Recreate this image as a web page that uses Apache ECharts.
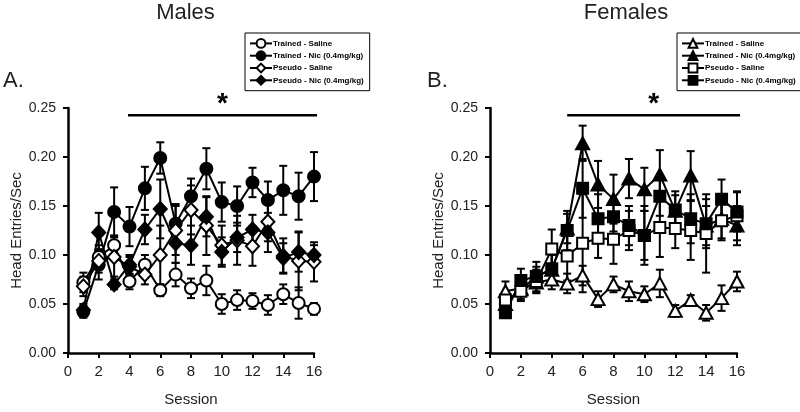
<!DOCTYPE html>
<html>
<head>
<meta charset="utf-8">
<script src="https://cdn.jsdelivr.net/npm/echarts@6/dist/echarts.min.js"></script>
<style>
html, body { margin: 0; padding: 0; background: #fff; }
#chart { width: 800px; height: 412px; }
</style>
</head>
<body>
<div id="chart"></div>
<script>
// sessions on the x axis
var sessions = [1, 2, 3, 4, 5, 6, 7, 8, 9, 10, 11, 12, 13, 14, 15, 16];
var yTicks = [0, 0.05, 0.10, 0.15, 0.20, 0.25];

// Males
var maleTrainedSaline    = [0.072, 0.098, 0.110, 0.073, 0.090, 0.064, 0.080, 0.066, 0.074, 0.050, 0.054, 0.053, 0.049, 0.060, 0.051, 0.045];
var maleTrainedSalineErr = [0.010, 0.012, 0.010, 0.008, 0.010, 0.006, 0.012, 0.010, 0.015, 0.010, 0.010, 0.008, 0.010, 0.010, 0.016, 0.006];
var maleTrainedNic       = [0.042, 0.090, 0.144, 0.129, 0.168, 0.199, 0.132, 0.160, 0.188, 0.154, 0.150, 0.174, 0.156, 0.166, 0.160, 0.180];
var maleTrainedNicErr    = [0.006, 0.015, 0.025, 0.020, 0.022, 0.016, 0.020, 0.018, 0.021, 0.020, 0.020, 0.015, 0.019, 0.025, 0.024, 0.025];
var malePseudoSaline     = [0.068, 0.094, 0.098, 0.088, 0.080, 0.100, 0.125, 0.146, 0.130, 0.110, 0.115, 0.109, 0.134, 0.099, 0.094, 0.093];
var malePseudoSalineErr  = [0.010, 0.012, 0.020, 0.010, 0.010, 0.030, 0.025, 0.025, 0.030, 0.020, 0.025, 0.020, 0.020, 0.018, 0.030, 0.020];
var malePseudoNic        = [0.044, 0.123, 0.070, 0.090, 0.126, 0.147, 0.112, 0.110, 0.139, 0.103, 0.118, 0.126, 0.123, 0.097, 0.103, 0.100];
var malePseudoNicErr     = [0.006, 0.020, 0.005, 0.010, 0.015, 0.030, 0.020, 0.020, 0.020, 0.015, 0.015, 0.015, 0.020, 0.015, 0.020, 0.010];

// Females
var femTrainedSaline    = [0.063, 0.066, 0.072, 0.075, 0.071, 0.079, 0.055, 0.070, 0.063, 0.060, 0.071, 0.043, 0.054, 0.041, 0.056, 0.073];
var femTrainedSalineErr = [0.010, 0.008, 0.010, 0.010, 0.010, 0.010, 0.008, 0.008, 0.010, 0.008, 0.014, 0.006, 0.005, 0.008, 0.013, 0.010];
var femTrainedNic       = [0.050, 0.065, 0.078, 0.085, 0.127, 0.214, 0.172, 0.157, 0.178, 0.167, 0.182, 0.145, 0.181, 0.130, 0.137, 0.130];
var femTrainedNicErr    = [0.010, 0.010, 0.010, 0.015, 0.015, 0.018, 0.024, 0.025, 0.020, 0.022, 0.025, 0.020, 0.025, 0.020, 0.020, 0.020];
var femPseudoSaline     = [0.054, 0.063, 0.073, 0.106, 0.099, 0.112, 0.117, 0.116, 0.125, 0.120, 0.128, 0.127, 0.125, 0.122, 0.135, 0.140];
var femPseudoSalineErr  = [0.008, 0.010, 0.012, 0.020, 0.025, 0.050, 0.020, 0.025, 0.020, 0.030, 0.030, 0.020, 0.030, 0.040, 0.020, 0.025];
var femPseudoNic        = [0.041, 0.074, 0.078, 0.086, 0.125, 0.168, 0.137, 0.139, 0.130, 0.120, 0.160, 0.146, 0.137, 0.132, 0.157, 0.144];
var femPseudoNicErr     = [0.005, 0.012, 0.015, 0.015, 0.020, 0.030, 0.025, 0.015, 0.020, 0.025, 0.020, 0.015, 0.025, 0.025, 0.020, 0.020];

var groupNames = ['Trained - Saline', 'Trained - Nic (0.4mg/kg)', 'Pseudo - Saline', 'Pseudo - Nic (0.4mg/kg)'];

var FONT = '"Liberation Sans", Arial, sans-serif';

var chart = echarts.init(document.getElementById('chart'));

// error bars with caps
function errBars(means, errs, gi) {
    return {
        type: 'custom',
        xAxisIndex: gi,
        yAxisIndex: gi,
        z: 2,
        silent: true,
        data: sessions.map(function (s, i) { return [s, means[i] - errs[i], means[i] + errs[i]]; }),
        renderItem: function (params, api) {
            var top = api.coord([api.value(0), api.value(2)]);
            var bot = api.coord([api.value(0), api.value(1)]);
            var w = 4;
            var st = { stroke: '#000', lineWidth: 2 };
            return {
                type: 'group',
                children: [
                    { type: 'line', shape: { x1: top[0], y1: top[1], x2: bot[0], y2: bot[1] }, style: st },
                    { type: 'line', shape: { x1: top[0] - w, y1: top[1], x2: top[0] + w, y2: top[1] }, style: st },
                    { type: 'line', shape: { x1: bot[0] - w, y1: bot[1], x2: bot[0] + w, y2: bot[1] }, style: st }
                ]
            };
        }
    };
}

function lineSeries(name, means, gi, symbol, size, filled) {
    return {
        name: name,
        type: 'line',
        xAxisIndex: gi,
        yAxisIndex: gi,
        z: 3,
        data: sessions.map(function (s, i) { return [s, means[i]]; }),
        symbol: symbol,
        symbolSize: size,
        showAllSymbol: true,
        lineStyle: { color: '#000', width: 2 },
        itemStyle: { color: filled ? '#000' : '#fff', borderColor: '#000', borderWidth: 2 },
        emphasis: { disabled: true }
    };
}

function xAxisFor(gi) {
    return {
        type: 'value', gridIndex: gi, min: 0, max: 16, interval: 2,
        name: 'Session', nameLocation: 'middle', nameGap: 39,
        nameTextStyle: { fontSize: 15, color: '#222', fontFamily: FONT },
        axisLine: { lineStyle: { color: '#000', width: 2.5 } },
        axisTick: { length: 5, lineStyle: { color: '#000', width: 2 } },
        axisLabel: { fontSize: 15, color: '#222', margin: 11, fontFamily: FONT },
        splitLine: { show: false }
    };
}

function yAxisFor(gi) {
    return {
        type: 'value', gridIndex: gi, min: 0, max: 0.25, interval: 0.05,
        name: 'Head Entries/Sec', nameLocation: 'middle', nameGap: 38,
        nameTextStyle: { fontSize: 15, color: '#222', fontFamily: FONT },
        axisLine: { show: true, lineStyle: { color: '#000', width: 2.5 } },
        axisTick: { show: true, length: 5, lineStyle: { color: '#000', width: 2 } },
        axisLabel: { fontSize: 14, color: '#222', margin: 12, fontFamily: FONT,
            formatter: function (v) { return v.toFixed(2); } },
        splitLine: { show: false }
    };
}

function legendFor(prefix, left) {
    return {
        data: groupNames.map(function (n) { return prefix + '|' + n; }),
        orient: 'vertical',
        left: left,
        top: 33,
        selectedMode: false,
        borderColor: '#000',
        borderWidth: 1,
        padding: [5, 6, 5, 4],
        itemWidth: 22,
        itemHeight: 11,
        itemGap: 1.5,
        formatter: function (n) { return n.split('|')[1]; },
        textStyle: { fontSize: 8, fontWeight: 'bold', color: '#000', fontFamily: FONT, padding: [0, 0, 0, -4] }
    };
}

var option = {
    animation: false,
    grid: [
        { left: 68, top: 108, width: 246, height: 248 },
        { left: 490, top: 108, width: 247, height: 248 }
    ],
    xAxis: [xAxisFor(0), xAxisFor(1)],
    yAxis: [yAxisFor(0), yAxisFor(1)],
    legend: [legendFor('M', 245), legendFor('F', 677)],
    series: [
        errBars(maleTrainedSaline, maleTrainedSalineErr, 0),
        errBars(maleTrainedNic, maleTrainedNicErr, 0),
        errBars(malePseudoSaline, malePseudoSalineErr, 0),
        errBars(malePseudoNic, malePseudoNicErr, 0),
        lineSeries('M|' + groupNames[0], maleTrainedSaline, 0, 'circle', 12, false),
        lineSeries('M|' + groupNames[1], maleTrainedNic, 0, 'circle', 12, true),
        lineSeries('M|' + groupNames[2], malePseudoSaline, 0, 'diamond', [13, 14], false),
        lineSeries('M|' + groupNames[3], malePseudoNic, 0, 'diamond', [13, 14], true),

        errBars(femTrainedSaline, femTrainedSalineErr, 1),
        errBars(femTrainedNic, femTrainedNicErr, 1),
        errBars(femPseudoSaline, femPseudoSalineErr, 1),
        errBars(femPseudoNic, femPseudoNicErr, 1),
        lineSeries('F|' + groupNames[0], femTrainedSaline, 1, 'triangle', [13, 12], false),
        lineSeries('F|' + groupNames[1], femTrainedNic, 1, 'triangle', [13, 12], true),
        lineSeries('F|' + groupNames[2], femPseudoSaline, 1, 'rect', 11, false),
        lineSeries('F|' + groupNames[3], femPseudoNic, 1, 'rect', 11, true)
    ]
};

chart.setOption(option);

// significance bars (session span, height) and panel labels
var sigBars = [
    { grid: 0, from: 3.9, to: 16.2, y: 0.2426 },
    { grid: 1, from: 5.0, to: 16.2, y: 0.2426 }
];

var graphics = [
    { type: 'text', x: 185.5, y: 13, style: { text: 'Males', font: '22px ' + FONT, fill: '#222', textAlign: 'center', textVerticalAlign: 'middle' } },
    { type: 'text', x: 626, y: 13, style: { text: 'Females', font: '22px ' + FONT, fill: '#222', textAlign: 'center', textVerticalAlign: 'middle' } },
    { type: 'text', x: 3, y: 81, style: { text: 'A.', font: '22px ' + FONT, fill: '#222', textAlign: 'left', textVerticalAlign: 'middle' } },
    { type: 'text', x: 427, y: 81, style: { text: 'B.', font: '22px ' + FONT, fill: '#222', textAlign: 'left', textVerticalAlign: 'middle' } }
];

sigBars.forEach(function (b) {
    var p1 = chart.convertToPixel({ gridIndex: b.grid }, [b.from, b.y]);
    var p2 = chart.convertToPixel({ gridIndex: b.grid }, [b.to, b.y]);
    graphics.push({ type: 'line', shape: { x1: p1[0], y1: p1[1], x2: p2[0], y2: p2[1] }, style: { stroke: '#000', lineWidth: 2.5 } });
    graphics.push({ type: 'text', x: (p1[0] + p2[0]) / 2, y: p1[1] - 11, style: { text: '*', font: 'bold 28px ' + FONT, fill: '#000', textAlign: 'center', textVerticalAlign: 'middle' } });
});

chart.setOption({ graphic: graphics });
</script>
</body>
</html>
